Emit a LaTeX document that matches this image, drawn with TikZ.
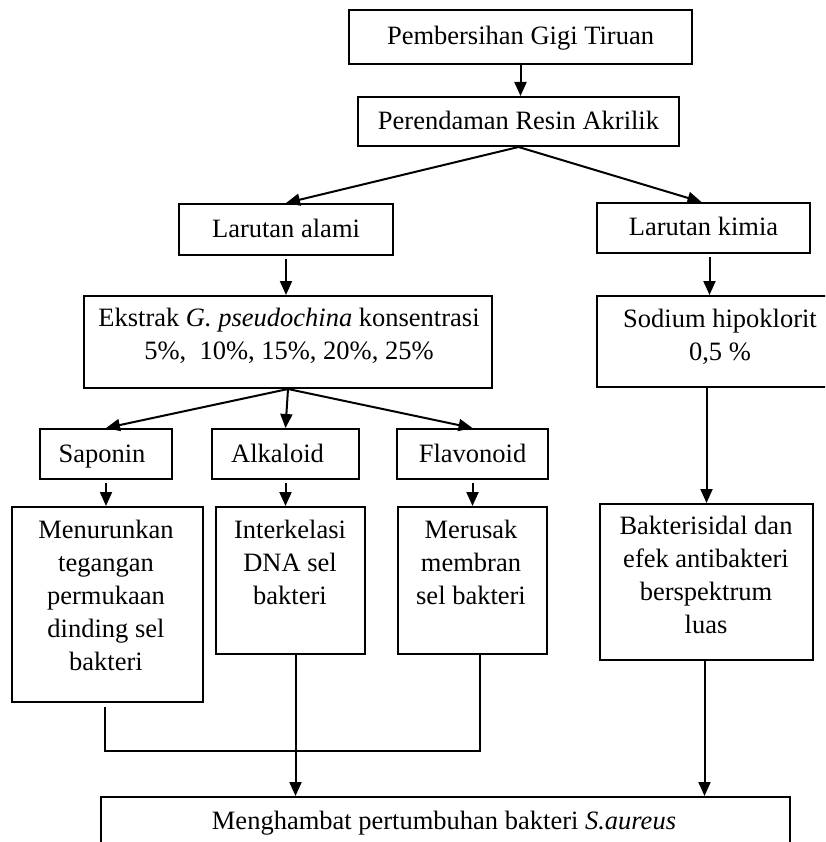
\documentclass[tikz,border=0pt]{standalone}
\usepackage{fontspec}
\setmainfont{Liberation Serif}
\usetikzlibrary{arrows.meta}

\begin{document}
\begin{tikzpicture}[x=1pt,y=-1pt,
	box/.style={draw, line width=\lw, inner sep=0pt, anchor=north west},
	txt/.style={align=center, inner sep=0pt, font=\fontsize{26.5}{33}\selectfont},
	oneline/.style={txt, anchor=base},
	flow/.style={line width=\lw, -{Triangle[length=14pt,width=12pt]}},
	link/.style={line width=\lw}]
	% Parameters
	\def\lw{2pt}
	\def\ytop{506}
	\def\yjoin{751}
	\def\bl{-8pt}
	
	\clip (0,0) rectangle (825,842);
	
	%boxes
	\node[box, minimum width=343pt, minimum height=54pt] (gigi) at (348,9) {};
	\node[box, minimum width=321pt, minimum height=49pt] (resin) at (357,96) {};
	\node[box, minimum width=214pt, minimum height=51pt] (alami) at (178,203) {};
	\node[box, minimum width=213pt, minimum height=50pt] (kimia) at (596,202) {};
	\node[box, minimum width=408pt, minimum height=92pt] (ekstrak) at (83,295) {};
	\node[box, minimum width=248pt, minimum height=91pt] (sodium) at (596,295) {};
	\node[box, minimum width=132pt, minimum height=50pt] (saponin) at (39,428) {};
	\node[box, minimum width=147pt, minimum height=50pt] (alkaloid) at (211,428) {};
	\node[box, minimum width=151pt, minimum height=50pt] (flavonoid) at (396,428) {};
	\node[box, minimum width=191pt, minimum height=195pt] (menurunkan) at (11,\ytop) {};
	\node[box, minimum width=149pt, minimum height=147pt] (interkelasi) at (215,\ytop) {};
	\node[box, minimum width=149pt, minimum height=147pt] (merusak) at (397,\ytop) {};
	\node[box, minimum width=213pt, minimum height=156pt] (bakterisidal) at (599,503) {};
	\node[box, minimum width=689pt, minimum height=60pt] (hambat) at (100,796) {};
	
	%texts
	\node[oneline] (gigiT) at ([yshift=\bl]gigi.center) {Pembersihan Gigi Tiruan};
	\node[oneline] (resinT) at ([yshift=\bl]resin.center) {Perendaman Resin Akrilik};
	\node[oneline] (alamiT) at ([yshift=\bl]alami.center) {Larutan alami};
	\node[oneline] (kimiaT) at ([yshift=\bl]kimia.center) {Larutan kimia};
	\node[txt, anchor=north] (ekstrakT) at (289,308) {Ekstrak \textit{G. pseudochina} konsentrasi\\5\%,~ 10\%, 15\%, 20\%, 25\%};
	\node[txt, anchor=north] (sodiumT) at (720,309) {Sodium hipoklorit\\0,5 \%};
	\node[oneline] (saponinT) at ([xshift=-4pt, yshift=\bl]saponin.center) {Saponin};
	\node[oneline] (alkaloidT) at ([xshift=-8pt, yshift=\bl]alkaloid.center) {Alkaloid};
	\node[oneline] (flavonoidT) at ([yshift=\bl]flavonoid.center) {Flavonoid};
	\node[txt, anchor=north] (menurunkanT) at (106,520) {Menurunkan\\tegangan\\permukaan\\dinding sel\\bakteri};
	\node[txt, anchor=north] (interkelasiT) at (290,520) {Interkelasi\\DNA sel\\bakteri};
	\node[txt, anchor=north] (merusakT) at (471,520) {Merusak\\membran\\sel bakteri};
	\node[txt, anchor=north] (bakterisidalT) at (706,516) {Bakterisidal dan\\efek antibakteri\\berspektrum\\luas};
	\node[oneline] (hambatT) at (444,829) {Menghambat pertumbuhan bakteri \textit{S.aureus}};
	
	%arrows
	\draw[flow] (gigi.south) -- (gigi.south |- resin.north);
	\draw[flow] (resin.south) -- (alami.north);
	\draw[flow] (resin.south) -- ([xshift=-2pt]kimia.north);
	\draw[flow] ([yshift=-3pt]alami.south) -- (alami.south |- ekstrak.north);
	\draw[flow] ([xshift=6pt, yshift=-3pt]kimia.south) -- ([xshift=6pt]kimia.south |- sodium.north);
	\draw[flow] (ekstrak.south) -- (saponin.north);
	\draw[flow] (ekstrak.south) -- (alkaloid.north);
	\draw[flow] (ekstrak.south) -- (flavonoid.north);
	\foreach \b/\c in {saponin/menurunkan, alkaloid/interkelasi, flavonoid/merusak} {
		\draw[flow] ([yshift=-3pt]\b.south) -- (\b.south |- \c.north);
	}
	\draw[flow] (bakterisidal.north |- sodium.south) -- (bakterisidal.north);
	
	%joins
	\coordinate (join) at ([xshift=7pt]merusak.south |- 0,\yjoin);
	\draw[link] ([xshift=-3pt, yshift=-4pt]menurunkan.south) |- (join) -- ([xshift=7pt]merusak.south);
	\draw[flow] ([xshift=5pt]interkelasi.south) -- ([xshift=5pt]interkelasi.south |- hambat.north);
	\draw[flow] ([xshift=-2pt]bakterisidal.south) -- ([xshift=-2pt]bakterisidal.south |- hambat.north);
	
\end{tikzpicture}
\end{document}
